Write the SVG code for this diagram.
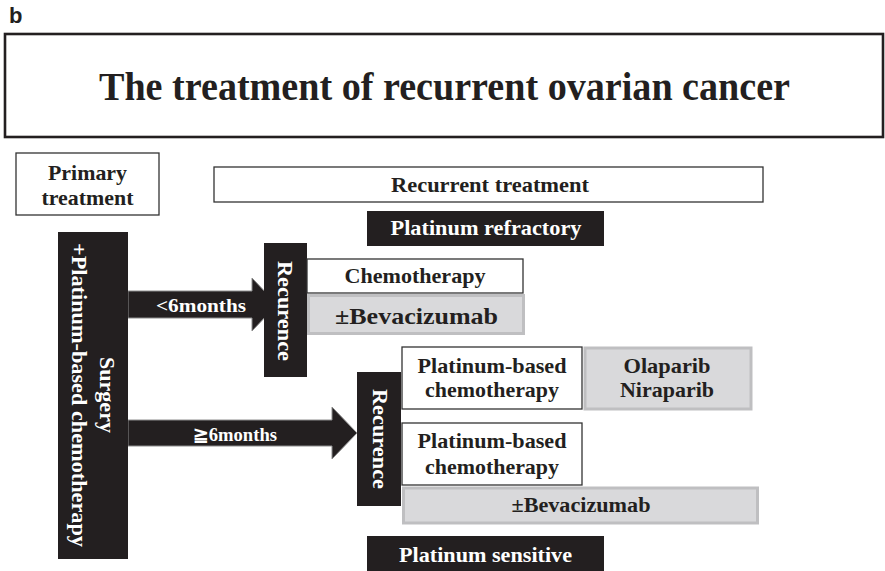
<svg xmlns="http://www.w3.org/2000/svg" width="885" height="571" viewBox="0 0 885 571">
<style>
  text { font-family: "Liberation Serif", "Times New Roman", "DejaVu Serif", serif; font-weight: bold; text-anchor: middle; }
  .wbox { fill: #ffffff; stroke: #333333; stroke-width: 1.3; }
  .gbox { fill: #d9d9db; stroke: #bfbfc1; stroke-width: 3; }
  .bbox { fill: #231f20; }
  .t22 { font-size: 21px; fill: #231f20; }
  .w22 { font-size: 21px; fill: #ffffff; }
  .arrow { fill: #231f20; stroke: #8c8c8c; stroke-width: 1; }
</style>
<rect width="885" height="571" fill="#ffffff"/>
<text x="9" y="23" style="font-family:'Liberation Sans',Arial,sans-serif;font-size:22px;text-anchor:start;fill:#231f20">b</text>

<g id="title">
  <rect x="5" y="34" width="878" height="103" fill="#ffffff" stroke="#231f20" stroke-width="2.6"/>
  <text x="444.5" y="100" style="font-size:41px;fill:#231f20" textLength="691" lengthAdjust="spacingAndGlyphs">The treatment of recurrent ovarian cancer</text>
</g>

<g id="connectors">
  <polygon class="arrow" points="128,291 252,291 252,278 277,304.5 252,331 252,318 128,318"/>
  <text x="201" y="312" class="w22" style="font-size:19px" textLength="90" lengthAdjust="spacingAndGlyphs">&lt;6months</text>
  <polygon class="arrow" points="128,420 332,420 332,407 357,433 332,459 332,446 128,446"/>
  <text x="235" y="441" class="w22" style="font-size:19px" textLength="84" lengthAdjust="spacingAndGlyphs">≧6months</text>
</g>

<g id="primary-treatment">
  <rect class="wbox" x="16" y="153" width="143" height="62"/>
  <text x="87.5" y="180" class="t22" textLength="79" lengthAdjust="spacingAndGlyphs">Primary</text>
  <text x="87.5" y="205" class="t22" textLength="92" lengthAdjust="spacingAndGlyphs">treatment</text>
</g>

<g id="recurrent-treatment">
  <rect class="wbox" x="214" y="167" width="549" height="35"/>
  <text x="490" y="192" class="t22" textLength="198" lengthAdjust="spacingAndGlyphs">Recurrent treatment</text>
</g>

<g id="platinum-refractory">
  <rect class="bbox" x="367" y="211" width="237" height="35"/>
  <text x="486" y="235" class="w22" textLength="191" lengthAdjust="spacingAndGlyphs">Platinum refractory</text>
</g>

<g id="surgery">
  <rect class="bbox" x="58" y="232" width="70" height="327"/>
  <g transform="translate(100,395) rotate(90)">
    <text x="0" y="0" class="w22" textLength="76" lengthAdjust="spacingAndGlyphs">Surgery</text>
    <text x="0" y="28" class="w22" textLength="304" lengthAdjust="spacingAndGlyphs">+Platinum-based chemotherapy</text>
  </g>
</g>

<g id="recurence-1">
  <rect class="bbox" x="264" y="243" width="43" height="134"/>
  <text transform="translate(278,311) rotate(90)" x="0" y="0" class="w22" textLength="100" lengthAdjust="spacingAndGlyphs">Recurence</text>
</g>

<g id="chemotherapy">
  <rect class="wbox" x="307" y="259" width="216" height="34"/>
  <text x="415" y="283" class="t22" textLength="141" lengthAdjust="spacingAndGlyphs">Chemotherapy</text>
</g>

<g id="bevacizumab-1">
  <rect class="gbox" x="308.5" y="295.5" width="215" height="38"/>
  <text x="416.5" y="324" class="t22" style="font-size:24px" textLength="163" lengthAdjust="spacingAndGlyphs">±Bevacizumab</text>
</g>

<g id="recurence-2">
  <rect class="bbox" x="357" y="372" width="44" height="134"/>
  <text transform="translate(373,439) rotate(90)" x="0" y="0" class="w22" textLength="100" lengthAdjust="spacingAndGlyphs">Recurence</text>
</g>

<g id="platinum-based-1">
  <rect class="wbox" x="402" y="347" width="180" height="62"/>
  <text x="492" y="373" class="t22" textLength="149" lengthAdjust="spacingAndGlyphs">Platinum-based</text>
  <text x="492" y="397" class="t22" textLength="134" lengthAdjust="spacingAndGlyphs">chemotherapy</text>
</g>

<g id="parp-inhibitors">
  <rect class="gbox" x="585" y="348" width="166" height="61"/>
  <text x="667" y="373" class="t22" textLength="87" lengthAdjust="spacingAndGlyphs">Olaparib</text>
  <text x="667" y="397" class="t22" textLength="94" lengthAdjust="spacingAndGlyphs">Niraparib</text>
</g>

<g id="platinum-based-2">
  <rect class="wbox" x="402" y="423" width="180" height="62"/>
  <text x="492" y="448" class="t22" textLength="149" lengthAdjust="spacingAndGlyphs">Platinum-based</text>
  <text x="492" y="474" class="t22" textLength="134" lengthAdjust="spacingAndGlyphs">chemotherapy</text>
</g>

<g id="bevacizumab-2">
  <rect class="gbox" x="403.5" y="488" width="354" height="35"/>
  <text x="581" y="512" class="t22" style="font-size:20px" textLength="139" lengthAdjust="spacingAndGlyphs">±Bevacizumab</text>
</g>

<g id="platinum-sensitive">
  <rect class="bbox" x="367" y="536" width="237" height="35"/>
  <text x="485.5" y="562" class="w22" textLength="173" lengthAdjust="spacingAndGlyphs">Platinum sensitive</text>
</g>
</svg>
